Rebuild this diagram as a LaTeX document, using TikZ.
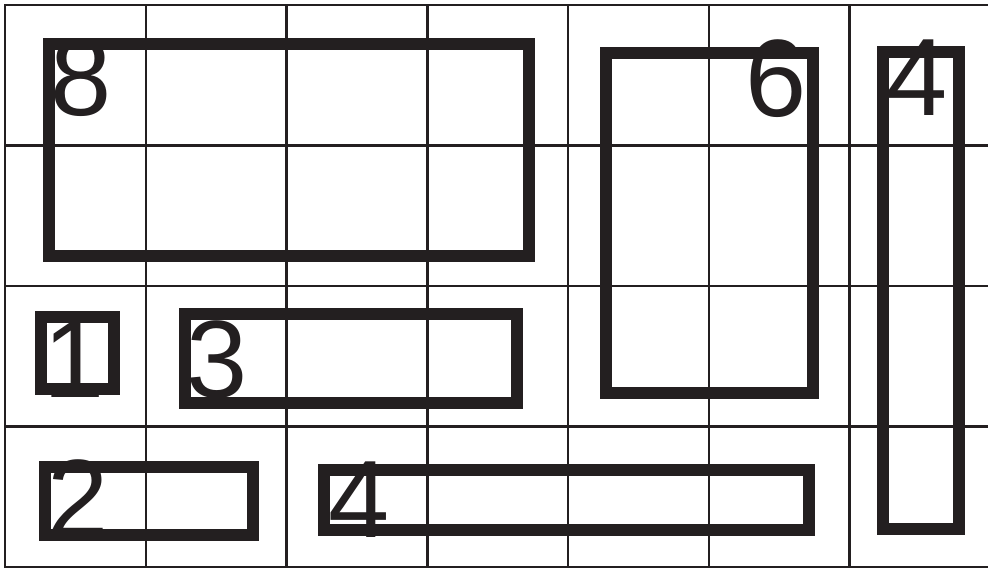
\documentclass[tikz,border=0pt]{standalone}
\usepackage{fontspec}
\setmainfont{Liberation Sans}
\definecolor{ink}{HTML}{231F20}
\begin{document}
\begin{tikzpicture}[x=1pt,y=-1pt,
  gridline/.style={ink,line width=2.5pt,line cap=rect},
  box/.style={ink,line width=12pt},
  num/.style={anchor=base west,inner sep=0pt,outer sep=0pt,text=ink,font=\fontsize{110}{110}\selectfont}]
\useasboundingbox (0,0) rectangle (988,568);
\foreach \i in {0,...,6} \draw[gridline] (5+140.75*\i,5) -- (5+140.75*\i,567);
\foreach \j in {0,...,4} \draw[gridline] (5,5+140.5*\j) -- (990,5+140.5*\j);
% rectangles
\draw[box] (49,44) rectangle (529,256);
\draw[box] (605.5,53) rectangle (812.5,393);
\draw[box] (883,51.5) rectangle (959,529);
\draw[box] (41,317) rectangle (114,389);
\draw[box] (185,314) rectangle (517,403);
\draw[box] (44.5,467) rectangle (253,534.5);
\draw[box] (323.5,469.5) rectangle (809,529.5);
% numbers
\node[num] (n8) at (50,115) {8};
\node[num] (n1) at (43,397) {1};
\node[num] (n3) at (186,397) {3};
\node[num] (n2) at (47,536) {2};
\node[num] (n4b) at (328,537) {4};
\node[num] (n6) at (745,116) {6};
\node[num] (n4a) at (886,115) {4};
\end{tikzpicture}
\end{document}
